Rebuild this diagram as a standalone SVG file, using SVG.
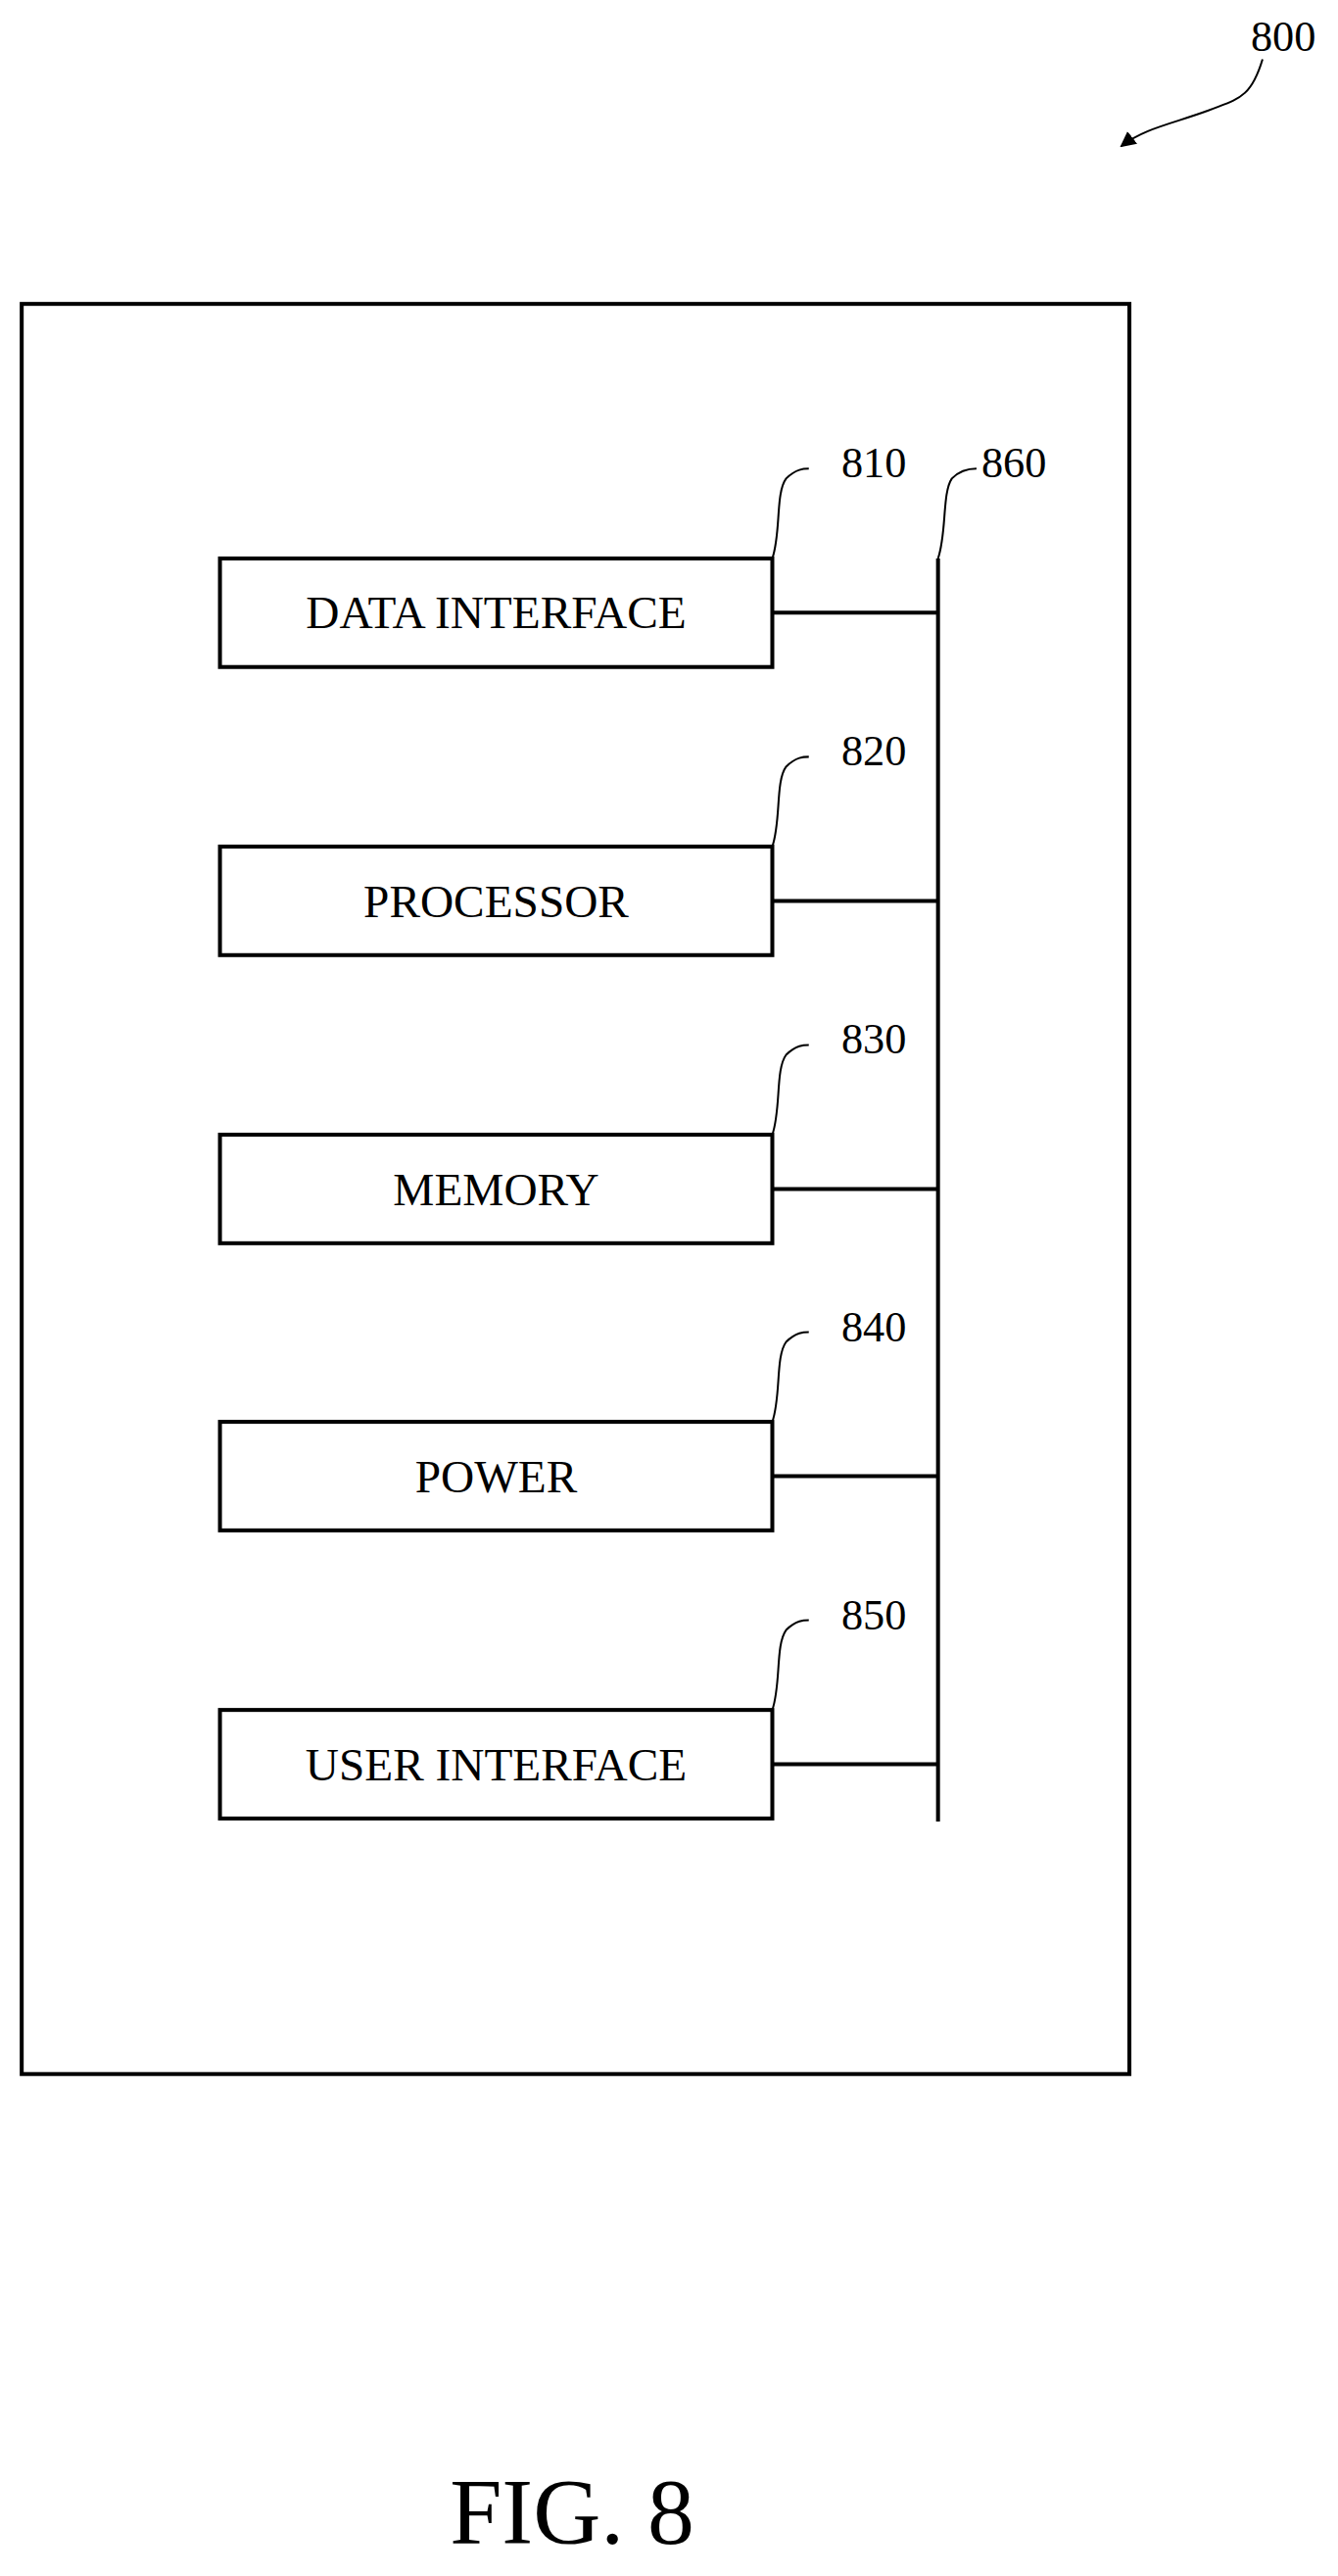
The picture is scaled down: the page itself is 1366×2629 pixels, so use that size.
<svg xmlns="http://www.w3.org/2000/svg" width="1366" height="2629" viewBox="0 0 1366 2629">
<defs>
<style>
.b{fill:#fff;stroke:#000;stroke-width:4}
.t{font-family:"Liberation Serif",serif;font-size:47px;text-anchor:middle}
.n{font-family:"Liberation Serif",serif;font-size:44px}
.l{fill:none;stroke:#000;stroke-width:2}
.c{fill:none;stroke:#000;stroke-width:4}
</style>
<marker id="ah" markerWidth="8" markerHeight="8" refX="7" refY="4" orient="auto" markerUnits="strokeWidth"><path d="M0,0 L8,4 L0,8 z"/></marker>
</defs>
<rect width="1366" height="2629" fill="#fff"/>
<g transform="scale(1.007)">
<text class="n" x="1268" y="52">800</text>
<path class="l" d="M1280,60 C1268,100 1255,100 1225,112 C1190,125 1160,130 1137,148" marker-end="url(#ah)" stroke-width="3"/>
<rect id="outer" class="b" x="22" y="308" width="1123" height="1794"/>
<g id="connectors">
<line class="c" x1="951" y1="566" x2="951" y2="1846"/>
<line class="c" x1="783" y1="621" x2="951" y2="621"/>
<line class="c" x1="783" y1="913" x2="951" y2="913"/>
<line class="c" x1="783" y1="1205" x2="951" y2="1205"/>
<line class="c" x1="783" y1="1496" x2="951" y2="1496"/>
<line class="c" x1="783" y1="1788" x2="951" y2="1788"/>
<path class="l" d="M951,566 C960,540 955,500 965,485 C975,475 985,475 990,475"/>
<text class="n" x="995" y="484">860</text>
</g>
<g id="n810"><rect class="b" x="223" y="566" width="560" height="110"/><text class="t" x="503" y="637">DATA INTERFACE</text><path class="l" d="M783,566 C792,540 786,500 797,485 C807,475 815,475 820,475"/><text class="n" x="853" y="484">810</text></g>
<g id="n820"><rect class="b" x="223" y="858" width="560" height="110"/><text class="t" x="503" y="929">PROCESSOR</text><path class="l" d="M783,858 C792,832 786,792 797,777 C807,767 815,767 820,767"/><text class="n" x="853" y="776">820</text></g>
<g id="n830"><rect class="b" x="223" y="1150" width="560" height="110"/><text class="t" x="503" y="1221">MEMORY</text><path class="l" d="M783,1150 C792,1124 786,1084 797,1069 C807,1059 815,1059 820,1059"/><text class="n" x="853" y="1068">830</text></g>
<g id="n840"><rect class="b" x="223" y="1441" width="560" height="110"/><text class="t" x="503" y="1512">POWER</text><path class="l" d="M783,1441 C792,1415 786,1375 797,1360 C807,1350 815,1350 820,1350"/><text class="n" x="853" y="1359">840</text></g>
<g id="n850"><rect class="b" x="223" y="1733" width="560" height="110"/><text class="t" x="503" y="1804">USER INTERFACE</text><path class="l" d="M783,1733 C792,1707 786,1667 797,1652 C807,1642 815,1642 820,1642"/><text class="n" x="853" y="1651">850</text></g>
<text x="580" y="2578" font-family="Liberation Serif,serif" font-size="95" text-anchor="middle">FIG. 8</text>
</g>
</svg>
